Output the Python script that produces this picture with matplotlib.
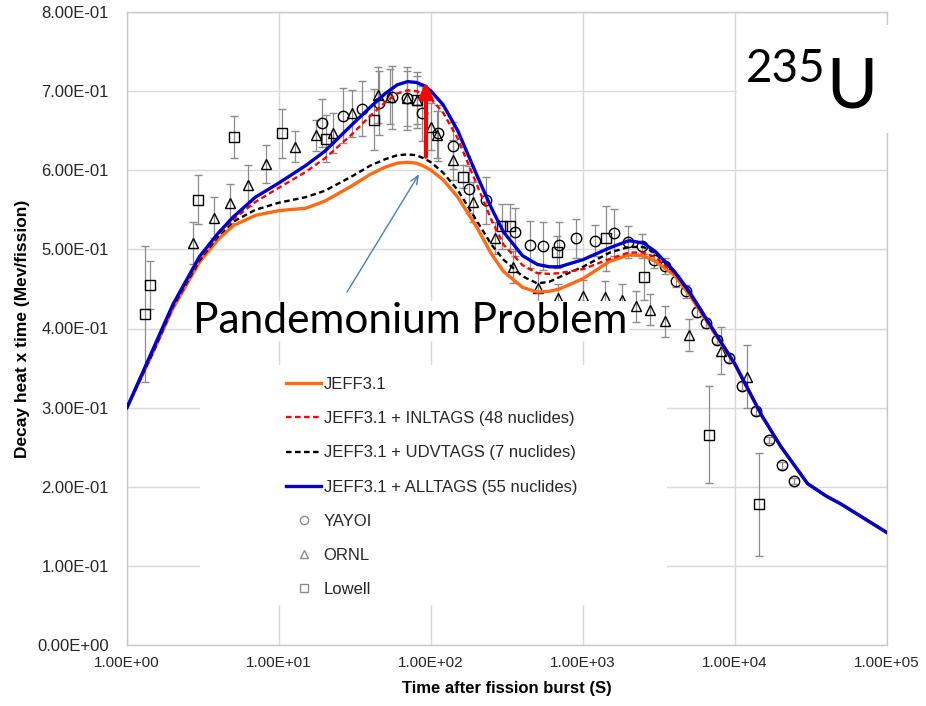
import numpy as np
import matplotlib
matplotlib.use("Agg")
import matplotlib.pyplot as plt
from matplotlib.lines import Line2D
from matplotlib.patches import Rectangle
from matplotlib import font_manager
from matplotlib.ticker import FixedLocator, FuncFormatter, NullLocator

plt.rcParams["lines.scale_dashes"] = False

# ---------------- data ----------------
# time after fission burst (s) for the calculated curves
calc_time = [1, 1.5, 2, 3, 4, 5, 7, 10, 15, 20, 30, 40, 50, 60, 70, 80, 90, 100,
             120, 150, 200, 250, 300, 400, 500, 600, 700, 1000, 1500, 2000, 2500,
             3000, 4000, 5000, 7000, 10000, 15000, 20000, 30000, 40000, 50000, 100000]

jeff31 = [0.300, 0.372, 0.425, 0.484, 0.513, 0.530, 0.543, 0.549, 0.552, 0.561,
          0.580, 0.595, 0.604, 0.609, 0.610, 0.609, 0.605, 0.600, 0.588, 0.566,
          0.528, 0.494, 0.472, 0.452, 0.446, 0.447, 0.450, 0.463, 0.485, 0.493,
          0.492, 0.485, 0.467, 0.443, 0.400, 0.354, 0.290, 0.251, 0.204, 0.188,
          0.178, 0.142]

jeff31_inltags = [0.300, 0.374, 0.428, 0.488, 0.519, 0.538, 0.560, 0.578, 0.598, 0.615,
                  0.645, 0.669, 0.686, 0.697, 0.701, 0.700, 0.696, 0.690, 0.673, 0.640,
                  0.582, 0.537, 0.506, 0.480, 0.470, 0.469, 0.470, 0.475, 0.488, 0.496,
                  0.496, 0.490, 0.470, 0.445, 0.401, 0.355, 0.290, 0.251, 0.204, 0.188,
                  0.178, 0.142]

jeff31_udvtags = [0.300, 0.372, 0.427, 0.486, 0.517, 0.535, 0.550, 0.559, 0.566, 0.574,
                  0.592, 0.606, 0.614, 0.619, 0.620, 0.619, 0.615, 0.610, 0.597, 0.575,
                  0.536, 0.506, 0.487, 0.466, 0.457, 0.459, 0.465, 0.478, 0.496, 0.503,
                  0.503, 0.495, 0.471, 0.445, 0.401, 0.355, 0.290, 0.251, 0.204, 0.188,
                  0.178, 0.142]

jeff31_alltags = [0.300, 0.376, 0.430, 0.491, 0.521, 0.541, 0.566, 0.584, 0.606, 0.624,
                  0.657, 0.680, 0.697, 0.708, 0.712, 0.711, 0.707, 0.700, 0.683, 0.650,
                  0.594, 0.552, 0.522, 0.492, 0.481, 0.478, 0.478, 0.487, 0.502, 0.511,
                  0.508, 0.497, 0.472, 0.447, 0.402, 0.355, 0.290, 0.251, 0.204, 0.188,
                  0.178, 0.142]

# measurements: time (s), value, uncertainty
yayoi_t = [19.1, 26.2, 35.3, 45.7, 55.1, 69.2, 86.9, 111, 140, 179, 230, 357, 450, 548,
           699, 899, 1200, 1600, 1968, 2455, 2944, 3477, 4093, 4762, 5597, 6442, 7590,
           9080, 11130, 13670, 16740, 20320, 24550]
yayoi_v = [0.660, 0.669, 0.678, 0.685, 0.692, 0.691, 0.672, 0.647, 0.631, 0.576, 0.562,
           0.522, 0.506, 0.504, 0.506, 0.514, 0.511, 0.521, 0.509, 0.504, 0.487, 0.479,
           0.460, 0.447, 0.421, 0.407, 0.385, 0.363, 0.327, 0.296, 0.259, 0.227, 0.207]
yayoi_e = [0.030, 0.035, 0.035, 0.040, 0.040, 0.040, 0.035, 0.035, 0.030, 0.030, 0.030,
           0.030, 0.030, 0.030, 0.028, 0.025, 0.020, 0.030, 0.020, 0.015, 0.010, 0.010,
           0.008, 0.008, 0.006, 0.006, 0.005, 0.005, 0.005, 0.005, 0.004, 0.004, 0.004]

ornl_t = [2.72, 3.72, 4.74, 6.25, 8.25, 12.8, 17.6, 22.7, 30.1, 45.0, 53.8, 69.2, 80.9,
          99.5, 109, 140, 190, 264, 348, 504, 688, 995, 1390, 1806, 2222, 2760, 3460,
          4960, 8030, 12080]
ornl_v = [0.508, 0.540, 0.558, 0.581, 0.608, 0.630, 0.644, 0.647, 0.672, 0.695, 0.693,
          0.691, 0.689, 0.655, 0.645, 0.613, 0.560, 0.514, 0.478, 0.451, 0.438, 0.441,
          0.440, 0.436, 0.428, 0.424, 0.409, 0.392, 0.372, 0.339]
ornl_e = [0.027, 0.026, 0.025, 0.026, 0.024, 0.020, 0.020, 0.025, 0.030, 0.035, 0.035,
          0.035, 0.035, 0.030, 0.030, 0.025, 0.025, 0.020, 0.020, 0.020, 0.018, 0.020,
          0.020, 0.020, 0.020, 0.020, 0.020, 0.020, 0.030, 0.040]

lowell_t = [1.32, 1.41, 2.93, 5.03, 10.5, 20.5, 42.2, 80.9, 163, 294, 331, 671, 1417,
            2519, 6723, 14360]
lowell_v = [0.418, 0.455, 0.563, 0.642, 0.647, 0.640, 0.664, 0.689, 0.592, 0.529, 0.529,
            0.497, 0.514, 0.465, 0.266, 0.178]
lowell_e = [0.086, 0.030, 0.031, 0.027, 0.031, 0.030, 0.039, 0.030, 0.015, 0.028, 0.028,
            0.020, 0.041, 0.029, 0.061, 0.065]

y_ticks = [0.0, 0.1, 0.2, 0.3, 0.4, 0.5, 0.6, 0.7, 0.8]
x_ticks = [1e0, 1e1, 1e2, 1e3, 1e4, 1e5]

# ---------------- fonts ----------------
installed = {f.name for f in font_manager.fontManager.ttflist}


def pick(*names):
    for n in names:
        if n in installed:
            return n
    return "DejaVu Sans"


f_tick = pick("Liberation Sans", "DejaVu Sans")
f_narrow = pick("Liberation Sans Narrow", "Liberation Sans", "DejaVu Sans")
f_big = pick("Lato", "Open Sans", "DejaVu Sans")

# ---------------- figure ----------------
W, H = 926, 706
fig = plt.figure(figsize=(W / 100, H / 100), dpi=100)
fig.patch.set_facecolor("white")
ax = fig.add_axes([127 / W, 1 - 645 / H, 760 / W, 633 / H])

ax.set_xscale("log")
ax.set_xlim(1, 1e5)
ax.set_ylim(0, 0.8)
ax.xaxis.set_major_locator(FixedLocator(x_ticks))
ax.xaxis.set_minor_locator(NullLocator())
ax.yaxis.set_major_locator(FixedLocator(y_ticks))
ax.xaxis.set_major_formatter(FuncFormatter(lambda v, p: f"{v:.2E}"))
ax.yaxis.set_major_formatter(FuncFormatter(lambda v, p: f"{v:.2E}"))
ax.tick_params(length=0, colors="#262626")
ax.tick_params(axis="y", pad=13)
ax.tick_params(axis="x", pad=8)
for lab in ax.get_yticklabels():
    lab.set_fontfamily(f_tick)
    lab.set_fontsize(12)
for lab in ax.get_xticklabels():
    lab.set_fontfamily(f_narrow)
    lab.set_fontsize(11)

ax.set_axisbelow(True)
ax.grid(True, color="#d9d9d9", lw=1.0)
for sp in ax.spines.values():
    sp.set_color("#c8c8c8")
    sp.set_linewidth(1.0)

ax.set_xlabel("Time after fission burst (S)", fontfamily=f_narrow, fontweight="bold",
              fontsize=12, labelpad=8)
ax.set_ylabel("Decay heat x time (Mev/fission)", fontfamily=f_narrow, fontweight="bold",
              fontsize=12.5, labelpad=5)

# measurement points with error bars
ebkw = dict(ecolor="#8c8c8c", elinewidth=0.9, capsize=3, capthick=0.9, ls="none",
            mfc="none", mec="black", mew=1.0, ms=7.5, zorder=3)
ax.errorbar(yayoi_t, yayoi_v, yerr=yayoi_e, marker="o", **ebkw)
ax.errorbar(ornl_t, ornl_v, yerr=ornl_e, marker="^", **ebkw)
ax.errorbar(lowell_t, lowell_v, yerr=lowell_e, marker="s", **ebkw)

# calculated curves
c_orange = "#FF6A13"
c_blue = "#0000CC"
ax.plot(calc_time, jeff31, color=c_orange, lw=2.4, zorder=4,
        solid_joinstyle="round")
ax.plot(calc_time, jeff31_udvtags, color="black", lw=1.7, dashes=(4.0, 2.5), zorder=4)
ax.plot(calc_time, jeff31_inltags, color="#FF0000", lw=1.7, dashes=(4.0, 2.5), zorder=4)
ax.plot(calc_time, jeff31_alltags, color=c_blue, lw=2.4, zorder=5,
        solid_joinstyle="round")

# arrows
ax.annotate("", xy=(83.4, 0.595), xytext=(28.0, 0.446),
            arrowprops=dict(arrowstyle="->,head_width=0.25,head_length=0.6",
                            color="#4A7EBB", lw=1.0, shrinkA=0, shrinkB=0), zorder=6)
ax.annotate("", xy=(92.7, 0.712), xytext=(92.7, 0.617),
            arrowprops=dict(arrowstyle="-|>,head_width=0.4,head_length=0.9",
                            color="#FF0000", lw=3.0, shrinkA=0, shrinkB=0,
                            mutation_scale=10), zorder=6)

# legend on a white panel
ax.add_patch(Rectangle((200 / W, 1 - 605 / H), 467 / W, 240 / H, transform=fig.transFigure,
                       facecolor="white", edgecolor="none", zorder=1, clip_on=False))
handles = [
    Line2D([], [], color=c_orange, lw=2.4),
    Line2D([], [], color="#FF0000", lw=1.7, dashes=(4.0, 2.5)),
    Line2D([], [], color="black", lw=1.7, dashes=(4.0, 2.5)),
    Line2D([], [], color=c_blue, lw=2.4),
    Line2D([], [], ls="none", marker="o", mfc="none", mec="#8c8c8c", ms=6, mew=1.0),
    Line2D([], [], ls="none", marker="^", mfc="none", mec="#8c8c8c", ms=6, mew=1.0),
    Line2D([], [], ls="none", marker="s", mfc="none", mec="#8c8c8c", ms=6, mew=1.0),
]
labels = ["JEFF3.1", "JEFF3.1 + INLTAGS (48 nuclides)", "JEFF3.1 + UDVTAGS (7 nuclides)",
          "JEFF3.1 + ALLTAGS (55 nuclides)", "YAYOI", "ORNL", "Lowell"]
leg = ax.legend(handles, labels, loc="upper left",
                bbox_to_anchor=(286 / W, 1 - 377 / H), bbox_transform=fig.transFigure,
                frameon=False, borderpad=0, borderaxespad=0, handlelength=2.1,
                handletextpad=0.15, labelspacing=1.15, numpoints=1,
                prop={"family": f_tick, "size": 12})
leg.set_zorder(7)
for t in leg.get_texts():
    t.set_color("#262626")

# overlaid slide text
fig.text(193 / W, 1 - 333 / H, "Pandemonium Problem", fontfamily=f_big, fontsize=30.6,
         color="black", ha="left", va="baseline", zorder=8,
         bbox=dict(facecolor="white", edgecolor="none", pad=1))

fig.add_artist(Rectangle((737 / W, 1 - 133 / H), 180 / W, 108 / H,
                         transform=fig.transFigure, facecolor="white",
                         edgecolor="none", zorder=8))
fig.text(746 / W, 1 - 82 / H, "235", fontfamily=f_big, fontsize=33, color="black",
         ha="left", va="baseline", zorder=9)
fig.text(826 / W, 1 - 107 / H, "U", fontfamily=f_big, fontsize=50, color="black",
         ha="left", va="baseline", zorder=9)

fig.savefig("out.png", dpi=100, facecolor="white")
